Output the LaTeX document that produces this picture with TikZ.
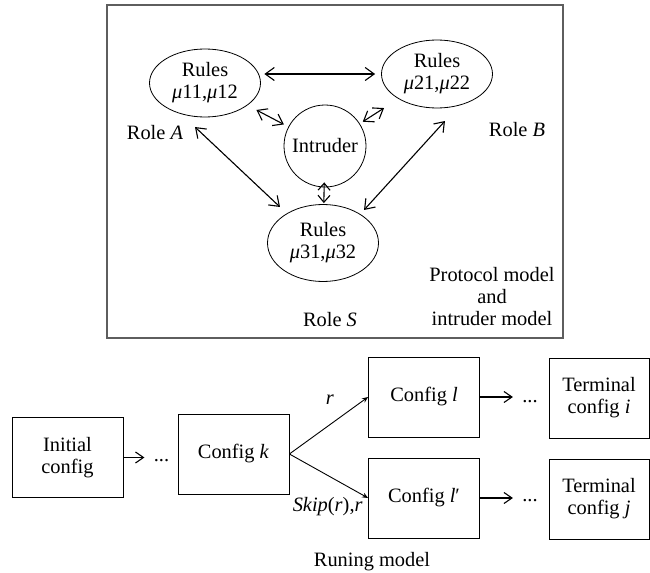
\documentclass[tikz,border=0pt]{standalone}
\usepackage{fontspec}
\setmainfont{Liberation Serif}
\usepackage{tikz}
\usetikzlibrary{positioning,shapes.geometric,arrows.meta}
\definecolor{framegray}{HTML}{5E5E5E}

\begin{document}
\begin{tikzpicture}[
        x=0.5pt, y=-0.5pt,
        font=\fontsize{10.2}{11}\selectfont,
        rules/.style={
            draw,
            ellipse,
            inner sep=0pt,
            minimum width=55.5pt,
            minimum height=34pt,
            align=center
        },
        cfg/.style={
            draw,
            inner sep=0pt,
            minimum width=55.5pt,
            minimum height=40pt,
            align=center
        },
        term/.style={
            cfg,
            minimum width=50pt
        },
        lbl/.style={
            inner sep=0pt,
            align=center
        },
        both/.style={
            {Straight Barb[length=4.5pt,width=6.5pt]}-{Straight Barb[length=4.5pt,width=6.5pt]},
            line width=0.55pt
        },
        lead/.style={
            -{Straight Barb[length=4pt,width=5.5pt]},
            line width=0.55pt
        },
        branch/.style={
            -{Stealth[length=3pt,width=2.5pt]},
            line width=0.45pt
        }
    ]

    \useasboundingbox (0,0) rectangle (650,573);

    % Protocol model and intruder model
    \draw[framegray, line width=1pt] (107,5) rectangle (563,338);

    \node[rules] (rA) at (205,83) {Rules\\\textit{μ}11,\textit{μ}12};
    \node[rules] (rB) at (437,74) {Rules\\\textit{μ}21,\textit{μ}22};
    \node[rules, minimum height=38.5pt] (rS) at (323,243) {Rules\\\textit{μ}31,\textit{μ}32};
    \node[draw, circle, inner sep=0pt, minimum size=41pt] (intr) at (325,146) {Intruder};

    \node[lbl] (roleA) at (155,133) {Role \textit{A}};
    \node[lbl] (roleB) at (517,130) {Role \textit{B}};
    \node[lbl] (roleS) at (330,320) {Role \textit{S}};
    \node[lbl] (pim) at (492,297) {Protocol model\\and\\intruder model};

    \draw[both, shorten <=1.75pt, shorten >=3pt] (rA.east |- rB.west) -- (rB.west);
    \draw[both, shorten <=5pt, shorten >=2.5pt] (rA) -- (intr);
    \draw[both, shorten <=8.5pt, shorten >=1.75pt] (rB) -- (intr);
    \draw[{Straight Barb[length=3.5pt,width=6pt]}-{Straight Barb[length=3.5pt,width=6pt]},
        line width=0.55pt, shorten <=-2.5pt, shorten >=0.5pt] (intr) -- (rS);
    \draw[both] ([shift={(-10,44)}]rA.center) -- ([shift={(-43,-36)}]rS.center);
    \draw[both] ([shift={(8,47)}]rB.center) -- ([shift={(41,-33)}]rS.center);

    % Running model
    \node[cfg] (init) at (67.5,457.5) {Initial\\config};
    \node[cfg] (cfgk) at (233.5,454) {Config \textit{k}};
    \node[cfg] (cfgl) at (424,397) {Config \textit{l}};
    \node[cfg] (cfglp) at (424,498) {Config \textit{l}′};
    \node[term] (termi) at (599,398) {Terminal\\config \textit{i}};
    \node[term] (termj) at (599,499) {Terminal\\config \textit{j}};

    \node[lbl, anchor=base] (dots0) at (161.5,461) {...};
    \node[lbl, anchor=base] (dotsl) at (530,402) {...};
    \node[lbl, anchor=base] (dotslp) at (530,502) {...};

    \draw[lead, shorten >=4.5pt] (init.east) -- (init.east -| dots0.west);
    \draw[lead, shorten >=4.5pt] (cfgl.east) -- (cfgl.east -| dotsl.west);
    \draw[lead, shorten >=4.5pt] (cfglp.east) -- (cfglp.east -| dotslp.west);

    \draw[branch] (cfgk.east) -- (cfgl.west);
    \draw[branch] (cfgk.east) -- (cfglp.west);
    \node[lbl] (lblr) at (330,400) {\textit{r}};
    \node[lbl, anchor=east] (lblskip) at (363,507) {\textit{Skip}(\textit{r}),\textit{r}};

    \node[lbl] (run) at (372,562) {Runing model};

\end{tikzpicture}
\end{document}
